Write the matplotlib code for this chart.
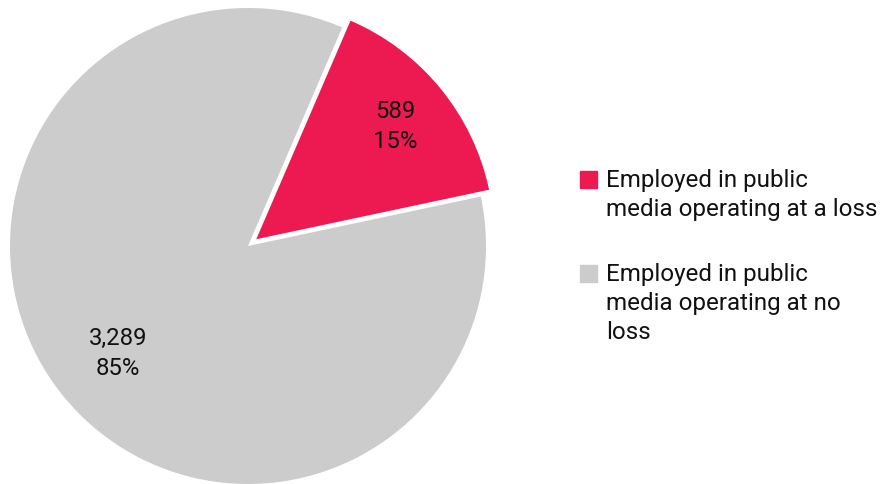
import matplotlib.pyplot as plt
import numpy as np
from matplotlib.patches import Rectangle

plt.rcParams['font.family'] = ['Roboto', 'DejaVu Sans']

labels = ['Employed in public\nmedia operating at a loss',
          'Employed in public\nmedia operating at no\nloss']
values = [589, 3289]
colors = ['#ED1951', '#CCCCCC']
explode = [0.045, 0]

fig = plt.figure(figsize=(8.81, 4.85), dpi=100)
# pie centre at about (248, 246) px, radius 238 px
ax = fig.add_axes([10 / 881, 0.0, 476 / 881, 476 / 485])
wedges, _ = ax.pie(values, colors=colors, explode=explode, startangle=12,
                   counterclock=True, radius=1,
                   wedgeprops=dict(linewidth=0))
ax.set_xlim(-1, 1)
ax.set_ylim(-1, 1)
ax.set_aspect('equal')
ax.axis('off')
for w in wedges:
    w.set_clip_on(False)

total = sum(values)
dists = [0.755, 0.705]
for w, v, d in zip(wedges, values, dists):
    mid = np.deg2rad((w.theta1 + w.theta2) / 2)
    cx, cy = w.center
    ax.text(cx + d * np.cos(mid), cy + d * np.sin(mid),
            f'{v:,}\n{v / total:.0%}', ha='center', va='center',
            fontsize=17.2, linespacing=1.42, color='#111111')

# legend drawn by hand so the swatch sits on the first text line
tops = [172, 266]
for lab, col, top in zip(labels, colors, tops):
    fig.patches.append(Rectangle((580 / 881, 1 - (top + 17) / 485), 17 / 881, 17 / 485,
                                 transform=fig.transFigure, color=col))
    fig.text(606 / 881, 1 - (top - 3) / 485, lab, ha='left', va='top',
             fontsize=17.4, linespacing=1.33, color='#111111')

fig.savefig('out.png', dpi=100)
